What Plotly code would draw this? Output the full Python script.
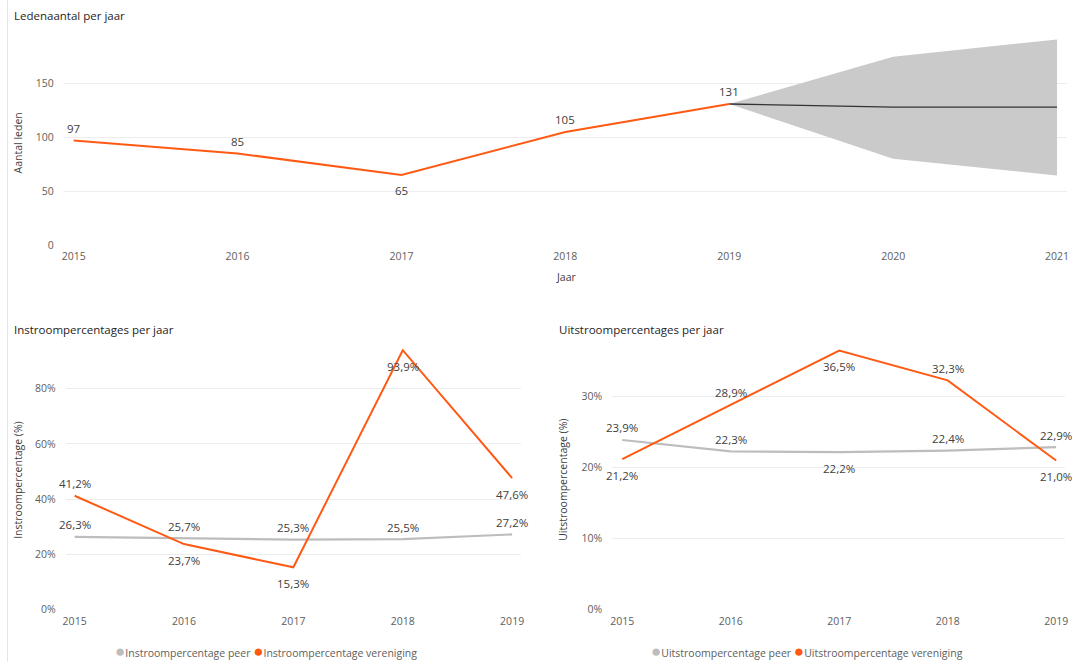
import plotly.graph_objects as go

# ---- data ----
years_leden = [2015, 2016, 2017, 2018, 2019]
leden = [97, 85, 65, 105, 131]
forecast_years = [2019, 2020, 2021]
forecast_mid = [131, 128, 128]
forecast_upper = [131, 175, 191]
forecast_lower = [131, 80, 64.5]

years_pct = [2015, 2016, 2017, 2018, 2019]
instroom_peer = [26.3, 25.7, 25.3, 25.5, 27.2]
instroom_ver = [41.2, 23.7, 15.3, 93.9, 47.6]
uitstroom_peer = [23.9, 22.3, 22.2, 22.4, 22.9]
uitstroom_ver = [21.2, 28.9, 36.5, 32.3, 21.0]

ORANGE = "#FF5A14"
GRAY = "#BDBDBD"
TXT = "#404040"
TICK = "#605E5C"
FONT = "Open Sans"
W, H = 1074, 669


def px(x):
    return x / W


def py(y):
    return 1 - y / H


def fmt(v):
    return f"{v:.1f}%".replace(".", ",")


fig = go.Figure()

# ---- top chart ----
fig.add_trace(go.Scatter(x=forecast_years, y=forecast_upper, mode="lines",
                         line=dict(width=0, color="#C8C8C8"), showlegend=False,
                         hoverinfo="skip", xaxis="x", yaxis="y"))
fig.add_trace(go.Scatter(x=forecast_years, y=forecast_lower, mode="lines",
                         line=dict(width=0, color="#C8C8C8"), fill="tonexty",
                         fillcolor="#CACACA", showlegend=False,
                         hoverinfo="skip", xaxis="x", yaxis="y"))
fig.add_trace(go.Scatter(x=forecast_years, y=forecast_mid, mode="lines",
                         line=dict(width=1.3, color="#333333"), showlegend=False,
                         xaxis="x", yaxis="y"))
fig.add_trace(go.Scatter(x=years_leden, y=leden, mode="lines",
                         line=dict(width=2, color=ORANGE),
                         showlegend=False, xaxis="x", yaxis="y"))

# ---- bottom-left ----
fig.add_trace(go.Scatter(x=years_pct, y=instroom_peer, mode="lines",
                         line=dict(width=2.2, color=GRAY),
                         showlegend=False, xaxis="x2", yaxis="y2"))
fig.add_trace(go.Scatter(x=years_pct, y=instroom_ver, mode="lines",
                         line=dict(width=2, color=ORANGE),
                         showlegend=False, xaxis="x2", yaxis="y2"))

# ---- bottom-right ----
fig.add_trace(go.Scatter(x=years_pct, y=uitstroom_peer, mode="lines",
                         line=dict(width=2.2, color=GRAY),
                         showlegend=False, xaxis="x3", yaxis="y3"))
fig.add_trace(go.Scatter(x=years_pct, y=uitstroom_ver, mode="lines",
                         line=dict(width=2, color=ORANGE),
                         showlegend=False, xaxis="x3", yaxis="y3"))

# ---- data labels (annotations anchored to data) ----
label_sets = [
    ("x", "y", years_leden, leden, [str(v) for v in leden], ["a", "a", "b", "a", "a"]),
    ("x2", "y2", years_pct, instroom_peer, [fmt(v) for v in instroom_peer], ["a"] * 5),
    ("x2", "y2", years_pct, instroom_ver, [fmt(v) for v in instroom_ver], ["a", "b", "b", "b", "b"]),
    ("x3", "y3", years_pct, uitstroom_peer, [fmt(v) for v in uitstroom_peer], ["a", "a", "b", "a", "a"]),
    ("x3", "y3", years_pct, uitstroom_ver, [fmt(v) for v in uitstroom_ver], ["b", "a", "b", "a", "b"]),
]
for xr, yr, xs, ys, txts, pos in label_sets:
    for xv, yv, t, p in zip(xs, ys, txts, pos):
        fig.add_annotation(x=xv, y=yv, xref=xr, yref=yr, text=t, showarrow=False,
                           xanchor="center", yanchor="middle",
                           yshift=12 if p == "a" else -16,
                           font=dict(size=11.5, color=TXT, family=FONT))

grid = "#EDEDED"
common_x = dict(showgrid=False, zeroline=False, showline=False, ticks="",
                tickfont=dict(size=10.5, color=TICK, family=FONT), tickmode="array",
                ticklabelstandoff=4, fixedrange=True)
common_y = dict(showgrid=True, gridcolor=grid, gridwidth=1, zeroline=False,
                showline=False, ticks="", tickfont=dict(size=10.5, color=TICK, family=FONT),
                ticklabelstandoff=9, fixedrange=True)

fig.update_layout(
    width=W, height=H, margin=dict(l=0, r=0, t=0, b=0),
    paper_bgcolor="white", plot_bgcolor="white",
    font=dict(family=FONT, color=TXT),
    showlegend=False,
    xaxis=dict(common_x, domain=[px(61), px(1070)], range=[2014.939, 2021.061],
               tickvals=[2015, 2016, 2017, 2018, 2019, 2020, 2021], anchor="y"),
    yaxis=dict(common_y, domain=[py(247.5), py(38)], range=[0, 192.7],
               tickvals=[0, 50, 100, 150], anchor="x"),
    xaxis2=dict(common_x, domain=[px(63), px(521)], range=[2014.918, 2019.082],
                tickvals=years_pct, anchor="y2"),
    yaxis2=dict(common_y, domain=[py(616), py(350)], range=[0, 95.3],
                tickvals=[0, 20, 40, 60, 80], ticktext=["0%", "20%", "40%", "60%", "80%"],
                anchor="x2"),
    xaxis3=dict(common_x, domain=[px(612.7), px(1068)], range=[2014.908, 2019.082],
                tickvals=years_pct, anchor="y3"),
    yaxis3=dict(common_y, domain=[py(616), py(350)], range=[0, 37.1],
                tickvals=[0, 10, 20, 30], ticktext=["0%", "10%", "20%", "30%"],
                anchor="x3"),
)

annots = [
    dict(text="Ledenaantal per jaar", x=px(9), y=py(16), size=11.5, angle=0, xanchor="left", title=True),
    dict(text="Instroompercentages per jaar", x=px(9), y=py(333), size=11.5, angle=0, xanchor="left", title=True),
    dict(text="Uitstroompercentages per jaar", x=px(557), y=py(333), size=11.5, angle=0, xanchor="left", title=True),
    dict(text="Aantal leden", x=px(16), y=py(144), size=10.5, angle=-90, xanchor="center", title=False),
    dict(text="Jaar", x=px(566), y=py(280), size=10.5, angle=0, xanchor="center", title=False),
    dict(text="Instroompercentage (%)", x=px(15), y=py(485), size=10.5, angle=-90, xanchor="center", title=False),
    dict(text="Uitstroompercentage (%)", x=px(563), y=py(485), size=10.5, angle=-90, xanchor="center", title=False),
]
for a in annots:
    fig.add_annotation(text=a["text"], x=a["x"], y=a["y"], xref="paper", yref="paper",
                       showarrow=False, textangle=a["angle"], xanchor=a["xanchor"],
                       yanchor="middle",
                       font=dict(size=a["size"], color="#252423" if a["title"] else TXT,
                                 family=FONT))


# ---- legends (text with coloured dots) ----
def legend_text(items):
    parts = []
    for name, col in items:
        parts.append(f"<span style='color:{col};font-size:17px'>●</span>{name}")
    return " ".join(parts)


fig.add_annotation(text=legend_text([("Instroompercentage peer", GRAY),
                                     ("Instroompercentage vereniging", ORANGE)]),
                   x=px(264), y=py(657), xref="paper", yref="paper", showarrow=False,
                   xanchor="center", yanchor="middle",
                   font=dict(size=10.5, color=TICK, family=FONT))
fig.add_annotation(text=legend_text([("Uitstroompercentage peer", GRAY),
                                     ("Uitstroompercentage vereniging", ORANGE)]),
                   x=px(809), y=py(657), xref="paper", yref="paper", showarrow=False,
                   xanchor="center", yanchor="middle",
                   font=dict(size=10.5, color=TICK, family=FONT))

fig.add_shape(type="line", xref="paper", yref="paper", x0=px(4.5), x1=px(4.5), y0=0, y1=1,
              line=dict(color="#E6E6E6", width=1))

fig.write_html(
    "out.html",
    config={"displayModeBar": False},
    post_script=("document.body.style.margin='0px';"
                 "document.body.style.overflow='hidden';"
                 "document.documentElement.style.overflow='hidden';"),
)
